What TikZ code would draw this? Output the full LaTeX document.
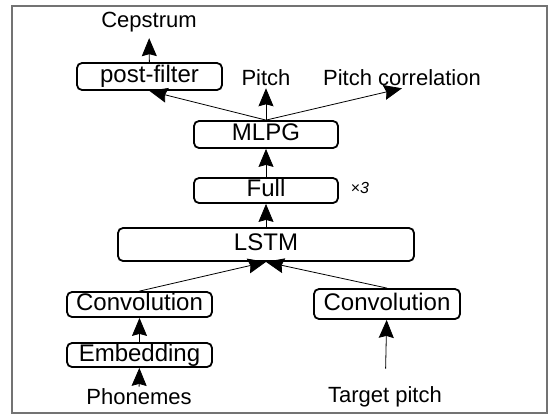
\documentclass[tikz,border=0pt]{standalone}
\usepackage{fontspec}
\setmainfont{Liberation Sans}
\usetikzlibrary{arrows.meta}
\tikzset{
  layer/.style={draw, line width=1.8pt, rounded corners=5pt, inner sep=0pt,
    font=\fontsize{24}{27}\selectfont, text height=17pt, text depth=4.5pt},
  io/.style={inner sep=2pt, font=\fontsize{22}{25}\selectfont},
  flow/.style={-{Stealth[length=18pt,width=15pt,inset=2pt]}, line width=0.8pt},
}
\begin{document}
\begin{tikzpicture}[x=1pt,y=-1pt]
    \useasboundingbox (0,0) rectangle (557,415);
    \draw[gray!90!black, line width=1.5pt] (12,6) rectangle (547,413);

    \node at (149.5,76.5) [layer, minimum width=145pt, minimum height=27pt] (postfilter) {post-filter};
    \node at (266,134.5) [layer, minimum width=144pt, minimum height=27pt] (mlpg) {MLPG};
    \node at (266,190.5) [layer, minimum width=144pt, minimum height=25pt] (full) {Full};
    \node at (266,244.5) [layer, minimum width=296pt, minimum height=33pt] (lstm) {LSTM};
    \node at (139.5,304.5) [layer, minimum width=145pt, minimum height=25pt] (convph) {Convolution};
    \node at (139.5,355) [layer, minimum width=145pt, minimum height=24pt] (embed) {Embedding};
    \node at (387,304) [layer, minimum width=146pt, minimum height=30pt] (convpt) {Convolution};

    \node at (149,22) [io] (cep) {Cepstrum};
    \node at (266,78) [io] (pitch) {Pitch};
    \node at (402,78) [io] (pcorr) {Pitch correlation};
    \node at (139,397) [io] (phon) {Phonemes};
    \node at (385,397) [io] (tpitch) {Target pitch};
    \node at (360,188) [font=\fontsize{16}{18}\selectfont] (rep) {×\textit{3}};

    \draw[flow] (phon) -- (embed);
    \draw[flow] (embed) -- (convph);
    \draw[flow, shorten <=16pt] (tpitch) -- (convpt);
    \draw[flow] (convph.north) -- (lstm.south);
    \draw[flow] (convpt.north) -- (lstm.south);
    \draw[flow] (lstm) -- (full);
    \draw[flow] (full) -- (mlpg);
    \draw[flow] (mlpg.north) -- (pitch);
    \draw[flow] (mlpg.north) -- (pcorr.south);
    \draw[flow] (mlpg.north) -- (postfilter.south);
    \draw[flow, shorten >=4pt] (postfilter) -- (cep);
\end{tikzpicture}
\end{document}
